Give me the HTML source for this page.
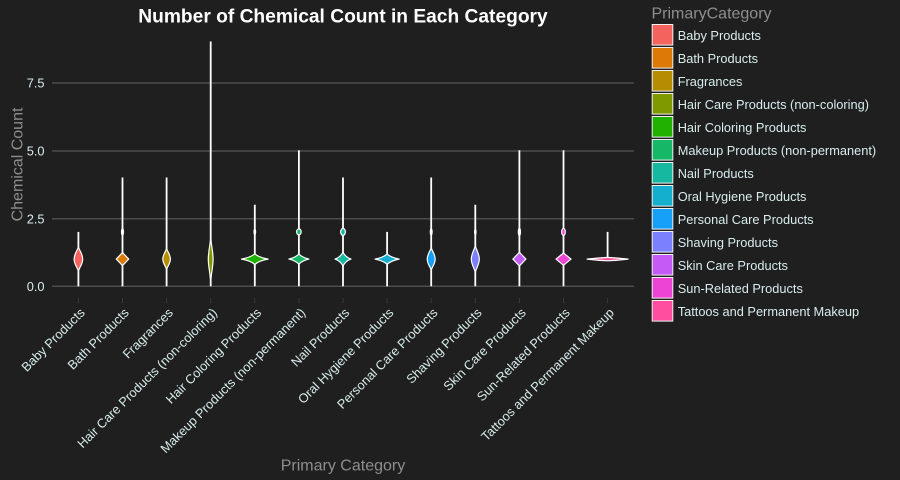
<!DOCTYPE html>
<html>
<head>
<meta charset="utf-8">
<style>
html,body{margin:0;padding:0;background:#1f1f1f;}
svg{display:block;}
text{font-family:"Liberation Sans",Arial,sans-serif;}
</style>
</head>
<body>
<svg width="900" height="480" viewBox="0 0 900 480" xmlns="http://www.w3.org/2000/svg">
<rect x="0" y="0" width="900" height="480" fill="#1f1f1f"/>

<!-- Title -->
<text x="343" y="22.5" text-anchor="middle" font-size="19.2" font-weight="bold" fill="#ffffff">Number of Chemical Count in Each Category</text>

<!-- Gridlines -->
<g stroke="#4d4d4d" stroke-width="1.5">
<line x1="52" y1="83" x2="634" y2="83"/>
<line x1="52" y1="151" x2="634" y2="151"/>
<line x1="52" y1="218.7" x2="634" y2="218.7"/>
<line x1="52" y1="286.3" x2="634" y2="286.3"/>
</g>

<!-- Y tick labels -->
<g font-size="12.8" fill="#d8ecec" text-anchor="end">
<text x="44.5" y="87.6">7.5</text>
<text x="44.5" y="155.6">5.0</text>
<text x="44.5" y="223.3">2.5</text>
<text x="44.5" y="290.9">0.0</text>
</g>

<!-- Y axis title -->
<text transform="translate(22.5,164.5) rotate(-90)" text-anchor="middle" font-size="16" fill="#8e8e8e">Chemical Count</text>

<!-- x ticks -->
<g stroke="#3a3a3a" stroke-width="1">
<line x1="78.4" y1="298" x2="78.4" y2="303"/>
<line x1="122.5" y1="298" x2="122.5" y2="303"/>
<line x1="166.6" y1="298" x2="166.6" y2="303"/>
<line x1="210.7" y1="298" x2="210.7" y2="303"/>
<line x1="254.8" y1="298" x2="254.8" y2="303"/>
<line x1="298.9" y1="298" x2="298.9" y2="303"/>
<line x1="343" y1="298" x2="343" y2="303"/>
<line x1="387.1" y1="298" x2="387.1" y2="303"/>
<line x1="431.2" y1="298" x2="431.2" y2="303"/>
<line x1="475.3" y1="298" x2="475.3" y2="303"/>
<line x1="519.4" y1="298" x2="519.4" y2="303"/>
<line x1="563.5" y1="298" x2="563.5" y2="303"/>
<line x1="607.6" y1="298" x2="607.6" y2="303"/>
</g>

<!-- vertical tails -->
<g stroke="#ffffff" stroke-width="1.8">
<line x1="78.4" y1="231.9" x2="78.4" y2="286.3"/>
<line x1="122.5" y1="177.5" x2="122.5" y2="286.3"/>
<line x1="166.6" y1="177.5" x2="166.6" y2="286.3"/>
<line x1="210.7" y1="41.5" x2="210.7" y2="286.3"/>
<line x1="254.8" y1="204.7" x2="254.8" y2="286.3"/>
<line x1="298.9" y1="150.3" x2="298.9" y2="286.3"/>
<line x1="343" y1="177.5" x2="343" y2="286.3"/>
<line x1="387.1" y1="231.9" x2="387.1" y2="286.3"/>
<line x1="431.2" y1="177.5" x2="431.2" y2="286.3"/>
<line x1="475.3" y1="204.7" x2="475.3" y2="286.3"/>
<line x1="519.4" y1="150.3" x2="519.4" y2="286.3"/>
<line x1="563.5" y1="150.3" x2="563.5" y2="286.3"/>
<line x1="607.6" y1="231.9" x2="607.6" y2="259.1"/>
</g>

<!-- small white bulges -->
<g fill="#ffffff">
<ellipse cx="122.5" cy="231.9" rx="1.6" ry="4"/>
<ellipse cx="254.8" cy="231.9" rx="1.4" ry="3.5"/>
<ellipse cx="431.2" cy="231.9" rx="1.5" ry="4"/>
<ellipse cx="519.4" cy="231.9" rx="1.7" ry="4.5"/>
<ellipse cx="475.3" cy="231.9" rx="1.3" ry="3.5"/>
</g>

<!-- violin bodies -->
<g stroke="#ffffff" stroke-width="1.2" stroke-linejoin="round">
<path fill="#F5635E" d="M78.4,247 C79.7,251 82.7,254 82.7,259.1 C82.7,264 79.7,267 78.4,271 C77.1,267 74.1,264 74.1,259.1 C74.1,254 77.1,251 78.4,247Z"/>
<path fill="#DB7A06" d="M122.5,252.6 L128.7,259.1 L122.5,265.6 L116.3,259.1Z"/>
<path fill="#B58E00" d="M166.6,248.5 C167.7,252 170.4,255 170.4,259.1 C170.4,263 167.7,266 166.6,269.5 C165.5,266 162.8,263 162.8,259.1 C162.8,255 165.5,252 166.6,248.5Z"/>
<path fill="#7F9A00" d="M210.7,238 C211.4,246 213.1,252 213.1,259.1 C213.1,266 211.4,273 210.7,281 C210,273 208.3,266 208.3,259.1 C208.3,252 210,246 210.7,238Z"/>
<path fill="#1FB200" d="M241.5,259.1 Q250.5,257.6 254.8,253.8 Q259.1,257.6 268.1,259.1 Q259.1,260.6 254.8,264.4 Q250.5,260.6 241.5,259.1Z"/>
<path fill="#16B868" d="M288.9,259.1 Q295.5,257.6 298.9,254 Q302.3,257.6 308.9,259.1 Q302.3,260.6 298.9,264.2 Q295.5,260.6 288.9,259.1Z"/>
<ellipse fill="#16B868" cx="298.9" cy="231.9" rx="2.3" ry="3"/>
<path fill="#17B8A0" d="M335,259.1 Q340,257.5 343,252.3 Q346,257.5 351,259.1 Q346,260.7 343,265.9 Q340,260.7 335,259.1Z"/>
<ellipse fill="#17B8A0" cx="343" cy="231.9" rx="2.4" ry="3.5"/>
<path fill="#14AECF" d="M375.1,259.1 Q383,257.6 387.1,254 Q391.2,257.6 399.1,259.1 Q391.2,260.6 387.1,264.2 Q383,260.6 375.1,259.1Z"/>
<path fill="#16A0F8" d="M431.2,248 C432.4,251.5 435.2,254.5 435.2,259.1 C435.2,263.5 432.4,266.5 431.2,270 C430,266.5 427.2,263.5 427.2,259.1 C427.2,254.5 430,251.5 431.2,248Z"/>
<path fill="#7B80FF" d="M475.3,246 C476.5,250 479.3,254 479.3,259.1 C479.3,264 476.5,268 475.3,272 C474.1,268 471.3,264 471.3,259.1 C471.3,254 474.1,250 475.3,246Z"/>
<path fill="#C55BF7" d="M519.4,252.3 L525.9,259.1 L519.4,265.9 L512.9,259.1Z"/>
<path fill="#EE44D6" d="M563.5,253 L571,259.1 L563.5,265.3 L556,259.1Z"/>
<ellipse fill="#EE44D6" cx="563.5" cy="231.9" rx="1.8" ry="3.6"/>
<path fill="#FF4DA0" d="M587.1,259.1 Q597,258 607.6,257.4 Q618,258 628.1,259.1 Q618,260.3 607.6,260.8 Q597,260.3 587.1,259.1Z"/>
</g>

<!-- X tick labels -->
<g font-size="12.8" fill="#d8ecec" text-anchor="end">
<text transform="translate(85.6,313.5) rotate(-45)">Baby Products</text>
<text transform="translate(129.7,313.5) rotate(-45)">Bath Products</text>
<text transform="translate(173.8,313.5) rotate(-45)">Fragrances</text>
<text transform="translate(217.9,313.5) rotate(-45)">Hair Care Products (non-coloring)</text>
<text transform="translate(262,313.5) rotate(-45)">Hair Coloring Products</text>
<text transform="translate(306.1,313.5) rotate(-45)">Makeup Products (non-permanent)</text>
<text transform="translate(350.2,313.5) rotate(-45)">Nail Products</text>
<text transform="translate(394.3,313.5) rotate(-45)">Oral Hygiene Products</text>
<text transform="translate(438.4,313.5) rotate(-45)">Personal Care Products</text>
<text transform="translate(482.5,313.5) rotate(-45)">Shaving Products</text>
<text transform="translate(526.6,313.5) rotate(-45)">Skin Care Products</text>
<text transform="translate(570.7,313.5) rotate(-45)">Sun-Related Products</text>
<text transform="translate(614.8,313.5) rotate(-45)">Tattoos and Permanent Makeup</text>
</g>

<!-- X axis title -->
<text x="343" y="470.5" text-anchor="middle" font-size="16" fill="#8e8e8e">Primary Category</text>

<!-- Legend -->
<text x="651.5" y="18.3" font-size="16" fill="#8e8e8e">PrimaryCategory</text>
<g stroke="#f0f0f0" stroke-width="1">
<rect x="652.2" y="24.5" width="20.6" height="20.6" fill="#F5635E"/>
<rect x="652.2" y="47.5" width="20.6" height="20.6" fill="#DB7A06"/>
<rect x="652.2" y="70.5" width="20.6" height="20.6" fill="#B58E00"/>
<rect x="652.2" y="93.5" width="20.6" height="20.6" fill="#7F9A00"/>
<rect x="652.2" y="116.5" width="20.6" height="20.6" fill="#1FB200"/>
<rect x="652.2" y="139.5" width="20.6" height="20.6" fill="#16B868"/>
<rect x="652.2" y="162.5" width="20.6" height="20.6" fill="#17B8A0"/>
<rect x="652.2" y="185.5" width="20.6" height="20.6" fill="#14AECF"/>
<rect x="652.2" y="208.5" width="20.6" height="20.6" fill="#16A0F8"/>
<rect x="652.2" y="231.5" width="20.6" height="20.6" fill="#7B80FF"/>
<rect x="652.2" y="254.5" width="20.6" height="20.6" fill="#C55BF7"/>
<rect x="652.2" y="277.5" width="20.6" height="20.6" fill="#EE44D6"/>
<rect x="652.2" y="300.5" width="20.6" height="20.6" fill="#FF4DA0"/>
</g>
<g font-size="12.8" fill="#d8ecec">
<text x="677.7" y="40">Baby Products</text>
<text x="677.7" y="63">Bath Products</text>
<text x="677.7" y="86">Fragrances</text>
<text x="677.7" y="109">Hair Care Products (non-coloring)</text>
<text x="677.7" y="132">Hair Coloring Products</text>
<text x="677.7" y="155">Makeup Products (non-permanent)</text>
<text x="677.7" y="178">Nail Products</text>
<text x="677.7" y="201">Oral Hygiene Products</text>
<text x="677.7" y="224">Personal Care Products</text>
<text x="677.7" y="247">Shaving Products</text>
<text x="677.7" y="270">Skin Care Products</text>
<text x="677.7" y="293">Sun-Related Products</text>
<text x="677.7" y="316">Tattoos and Permanent Makeup</text>
</g>
</svg>
</body>
</html>
